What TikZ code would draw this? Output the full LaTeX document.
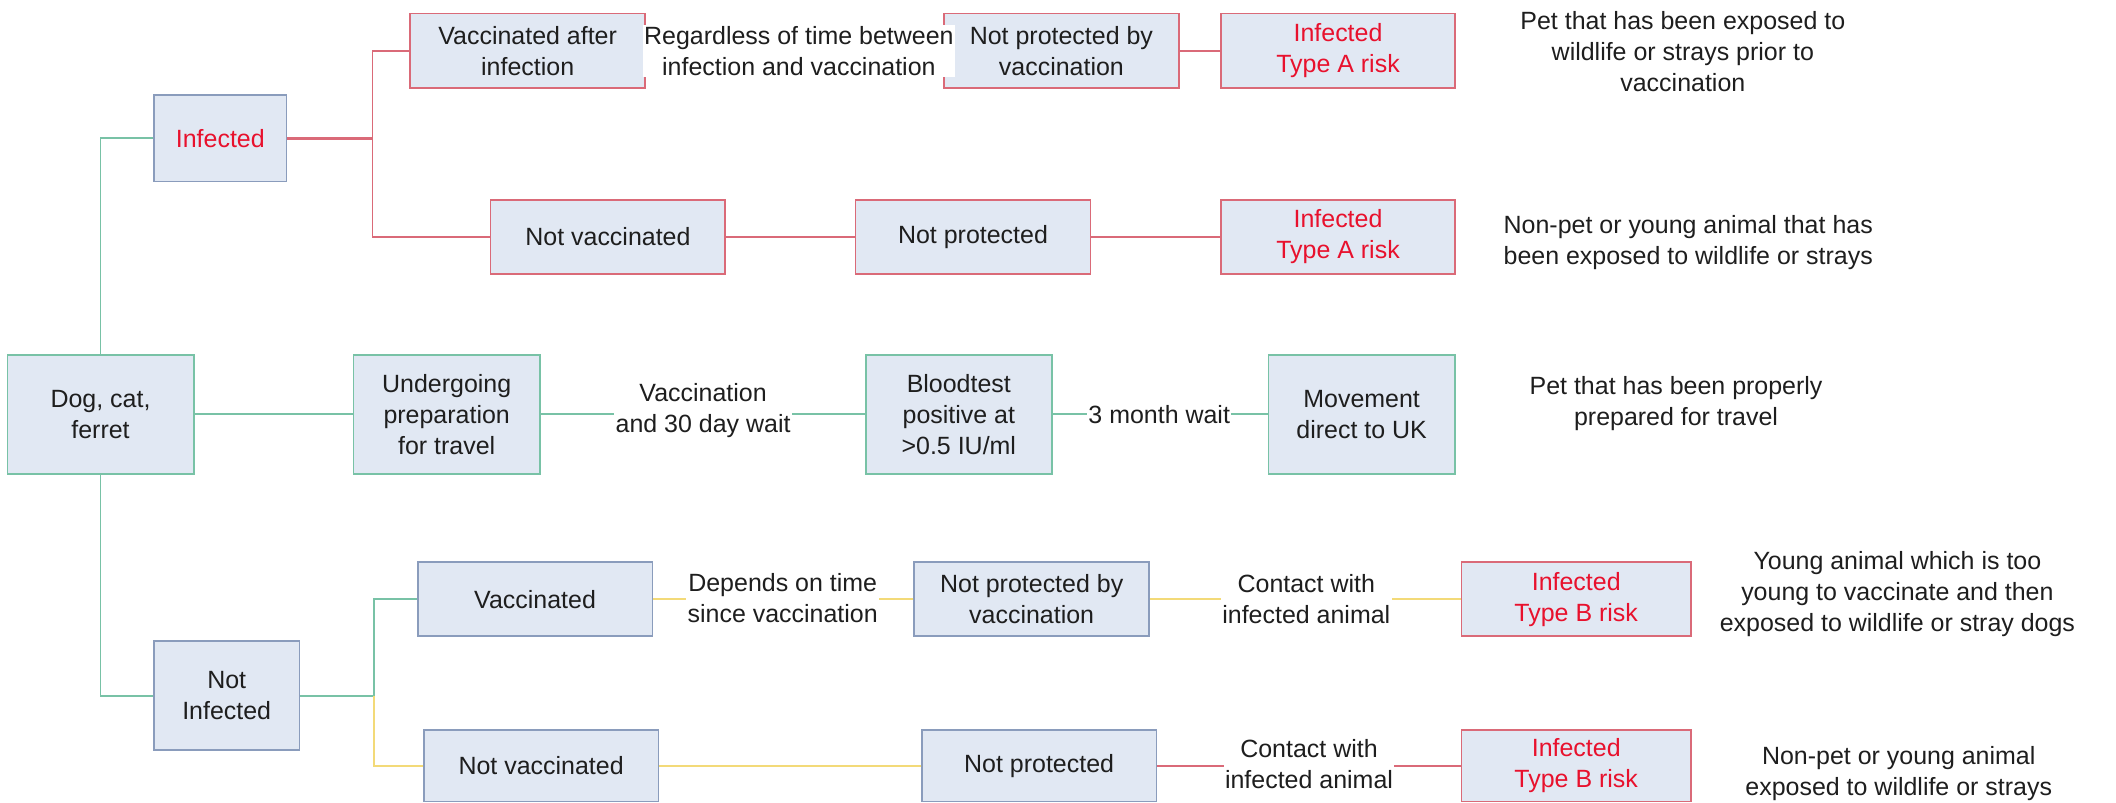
\documentclass[tikz,border=0pt]{standalone}
\usepackage{fontspec}
\setmainfont{Liberation Sans}
\usepackage{xcolor}
\usetikzlibrary{calc}
\definecolor{BoxFill}   {HTML}{E1E8F3}
\definecolor{BlueEdge}  {HTML}{8A9CBC}
\definecolor{GreenEdge} {HTML}{78C2A6}
\definecolor{RedEdge}   {HTML}{DA6A78}
\definecolor{RiskRed}   {HTML}{E8112D}
\definecolor{PathYellow}{HTML}{F3DA78}
\definecolor{InkGray}   {HTML}{1E1E1E}
\tikzset{
  box/.style={
    draw, fill=BoxFill, line width=1.3pt, align=center, inner sep=0pt,
    minimum width=174pt, minimum height=55pt,
    font=\fontsize{18.5}{23}\selectfont, text=InkGray,
  },
  bluebox/.style ={box, draw=BlueEdge},
  redbox/.style  ={box, draw=RedEdge},
  riskbox/.style ={redbox, text=RiskRed},
  greenbox/.style={box, draw=GreenEdge, minimum width=138pt, minimum height=88pt},
  link/.style={line width=1.4pt},
  grnlink/.style={link, draw=GreenEdge},
  redlink/.style={link, draw=RedEdge},
  ylwlink/.style={link, draw=PathYellow},
  lbl/.style={
    font=\fontsize{18.5}{23}\selectfont, text=InkGray,
    fill=white, inner sep=1pt, align=center,
  },
  note/.style={font=\fontsize{18.5}{23}\selectfont, text=InkGray, align=center},
}

\begin{document}
\begin{tikzpicture}[x=1pt, y=-1pt]
\useasboundingbox (0,0) rectangle (1568,595);

% ── Nodes ─────────────────────────────────────────────────────────────────
\node[greenbox] (DOG)  at ( 74.5,307) {Dog, cat,\\ferret};
\node[bluebox, minimum width=98pt, minimum height=64pt, text=RiskRed]
                (INF)  at (163.25,102.5) {Infected};
\node[bluebox, minimum width=108pt, minimum height=81pt]
                (NINF) at (168,515.5) {Not\\Infected};

% infected, vaccinated later
\node[redbox]  (VAI)  at (391,37.5)   {Vaccinated after\\infection};
\node[redbox]  (NPV1) at (786.5,37.5) {Not protected by\\vaccination};
\node[riskbox, minimum width=173pt] (RA1) at (991.5,37.5) {Infected\\Type A risk};

% infected, never vaccinated
\node[redbox]  (NVA)  at (450.5,175.5) {Not vaccinated};
\node[redbox]  (NPA)  at (721,175.5)   {Not protected};
\node[riskbox, minimum width=173pt] (RA2) at (991.5,175.5) {Infected\\Type A risk};

% prepared pet
\node[greenbox] (PREP)  at (331,307)    {Undergoing\\preparation\\for travel};
\node[greenbox] (BLOOD) at (710.5,307)  {Bloodtest\\positive at\\>0.5 IU/ml};
\node[greenbox] (MOVE)  at (1009,307)   {Movement\\direct to UK};

% not infected
\node[bluebox] (VAC)  at (396.5,444) {Vaccinated};
\node[bluebox] (NPV2) at (764.5,444) {Not protected by\\vaccination};
\node[riskbox, minimum width=170pt] (RB1) at (1168,444) {Infected\\Type B risk};
\node[bluebox, minimum height=53pt] (NVB) at (401,567.5) {Not vaccinated};
\node[bluebox, minimum height=53pt] (NPB) at (770,567.5) {Not protected};
\node[riskbox, minimum width=170pt, minimum height=53pt] (RB2) at (1168,567.5) {Infected\\Type B risk};

% ── Connectors ────────────────────────────────────────────────────────────
\coordinate (FORKA) at (276,102.5);
\coordinate (FORKB) at (277,515.5);

\draw[grnlink] (DOG.north) |- (INF.west);
\draw[grnlink] (DOG.south) |- (NINF.west);
\draw[grnlink] (DOG.east) -- (PREP.west);

\draw[redlink, line width=2.6pt] (INF.east) -- (FORKA);
\draw[redlink] (FORKA) |- (VAI.west);
\draw[redlink] (FORKA) |- (NVA.west);
\draw[redlink] (VAI.east) -- (NPV1.west);
\draw[redlink] (NPV1.east) -- (RA1.west);
\draw[redlink] (NVA.east) -- (NPA.west);
\draw[redlink] (NPA.east) -- (RA2.west);

\draw[grnlink] (PREP.east) -- (BLOOD.west);
\draw[grnlink] (BLOOD.east) -- (MOVE.west);

\draw[grnlink] (NINF.east) -- (FORKB);
\draw[grnlink] (FORKB) |- (VAC.west);
\draw[ylwlink] (FORKB) |- (NVB.west);
\draw[ylwlink] (VAC.east) -- (NPV2.west);
\draw[ylwlink] (NPV2.east) -- (RB1.west);
\draw[ylwlink] (NVB.east) -- (NPB.west);
\draw[redlink] (NPB.east) -- (RB2.west);

% ── Edge labels (white fill hides the line under them) ───────────────────
\node[lbl] (LREG)  at (592,37.5) {Regardless of time between\\infection and vaccination};
\node[lbl] (LVAC)  at (521,304)  {Vaccination\\and 30 day wait};
\node[lbl] (LWAIT) at (859,307)  {3 month wait};
\node[lbl] (LDEP)  at (580,443)  {Depends on time\\since vaccination};
\node[lbl] (LCON1) at (968,444)  {Contact with\\infected animal};
\node[lbl] (LCON2) at (970,566)  {Contact with\\infected animal};

% ── Outcome notes ─────────────────────────────────────────────────────────
\node[note] (N1) at (1247,38)  {Pet that has been exposed to\\wildlife or strays prior to\\vaccination};
\node[note] (N2) at (1251,180) {Non-pet or young animal that has\\been exposed to wildlife or strays};
\node[note] (N3) at (1242,299) {Pet that has been properly\\prepared for travel};
\node[note] (N4) at (1406,440) {Young animal which is too\\young to vaccinate and then\\exposed to wildlife or stray dogs};
\node[note] (N5) at (1407,573) {Non-pet or young animal\\exposed to wildlife or strays};

\end{tikzpicture}
\end{document}
